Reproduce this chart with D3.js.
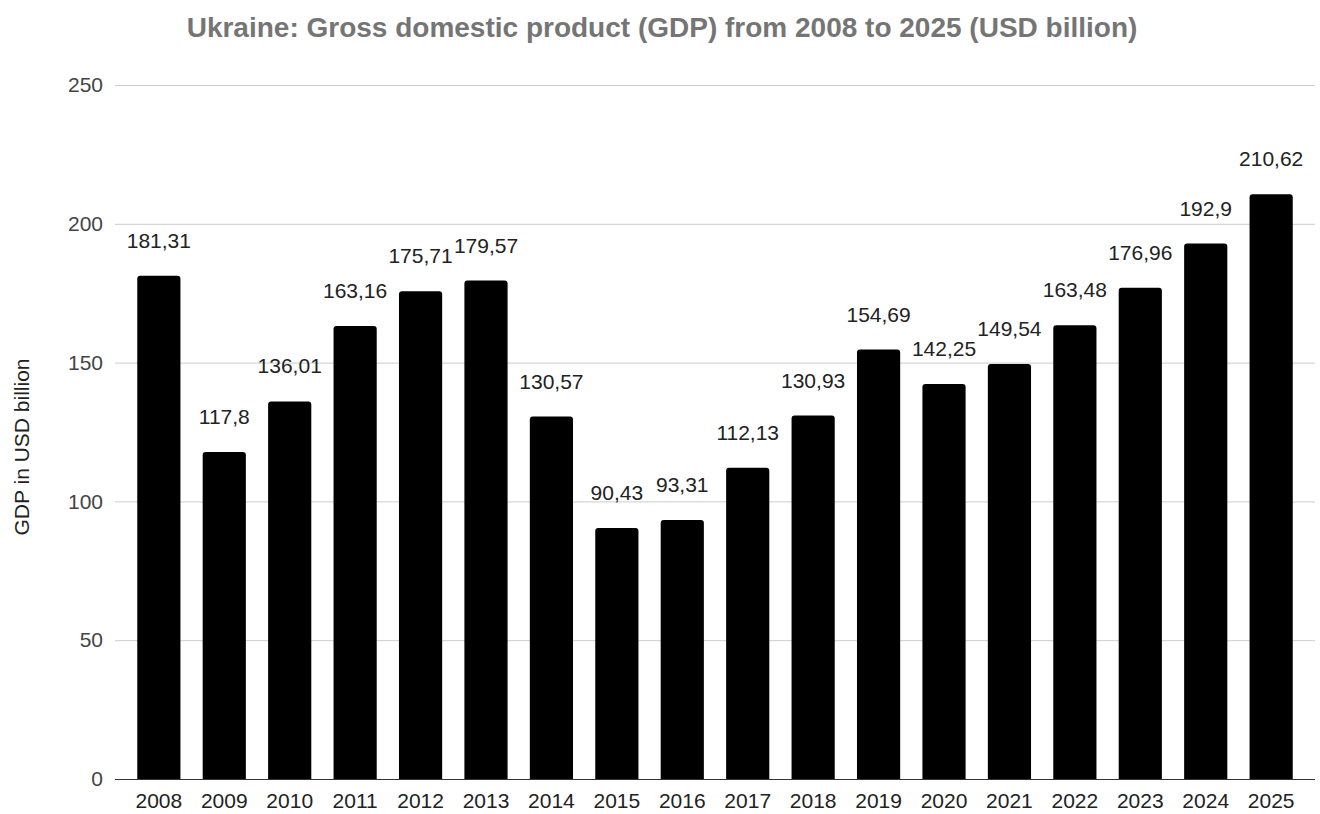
<!DOCTYPE html>
<html>
<head>
<meta charset="utf-8">
<script src="https://cdn.jsdelivr.net/npm/d3@7"></script>
<style>
  html, body { margin: 0; padding: 0; background: #fff; }
  svg { display: block; font-family: "Liberation Sans", Arial, sans-serif; }
</style>
</head>
<body>
<svg id="chart" width="1320" height="814"></svg>
<script>
// Ukraine GDP, USD billion
const years = ["2008","2009","2010","2011","2012","2013","2014","2015","2016","2017",
               "2018","2019","2020","2021","2022","2023","2024","2025"];
const gdp = [181.31,117.8,136.01,163.16,175.71,179.57,130.57,90.43,93.31,112.13,
             130.93,154.69,142.25,149.54,163.48,176.96,192.9,210.62];
const yTicks = [0,50,100,150,200,250];

const svg = d3.select("#chart");
const margin = { left: 115, right: 5, top: 85, bottom: 35 };
const W = 1320, H = 814;
const FONT = "Liberation Sans, Arial, sans-serif";

const x = d3.scaleBand()
  .domain(years)
  .range([margin.left, W - margin.right])
  .paddingInner(0.34)
  .paddingOuter(0.34);

const y = d3.scaleLinear()
  .domain([0, 250])
  .range([H - margin.bottom, margin.top]);

const fmt = v => String(v).replace(".", ",");

// title
svg.append("text")
  .attr("x", 662).attr("y", 37)
  .attr("text-anchor", "middle")
  .attr("font-size", 28).attr("font-weight", "bold")
  .attr("fill", "#757575")
  .text("Ukraine: Gross domestic product (GDP) from 2008 to 2025 (USD billion)");

// gridlines + y tick labels
const yAxis = d3.axisLeft(y).tickValues(yTicks).tickSize(-(W - margin.left - margin.right)).tickPadding(12);
const gy = svg.append("g").attr("transform", `translate(${margin.left},0)`).call(yAxis);
gy.select(".domain").remove();
gy.selectAll(".tick line").attr("stroke", "#cccccc").attr("stroke-width", 1);
gy.selectAll(".tick text").attr("font-size", 21).attr("fill", "#444").attr("font-family", FONT);

// axis title
svg.append("text")
  .attr("transform", `translate(29,447) rotate(-90)`)
  .attr("text-anchor", "middle")
  .attr("font-size", 21).attr("fill", "#222")
  .text("GDP in USD billion");

// bars with slightly rounded tops
const r = 3;
svg.append("g").selectAll("path")
  .data(years.map((yr, i) => ({ yr, v: gdp[i] })))
  .join("path")
  .attr("fill", "#000")
  .attr("d", d => {
    const x0 = x(d.yr), w = x.bandwidth(), y0 = y(d.v), yb = y(0);
    return `M${x0},${yb}V${y0 + r}Q${x0},${y0} ${x0 + r},${y0}H${x0 + w - r}Q${x0 + w},${y0} ${x0 + w},${y0 + r}V${yb}Z`;
  });

// value labels
svg.append("g").selectAll("text")
  .data(years.map((yr, i) => ({ yr, v: gdp[i] })))
  .join("text")
  .attr("x", d => x(d.yr) + x.bandwidth() / 2)
  .attr("y", d => y(d.v) - 28)
  .attr("text-anchor", "middle")
  .attr("font-size", 21).attr("fill", "#222")
  .text(d => fmt(d.v));

// x axis baseline + labels
const xAxis = d3.axisBottom(x).tickSize(0).tickPadding(14);
const gx = svg.append("g").attr("transform", `translate(0,${y(0)})`).call(xAxis);
gx.select(".domain").attr("stroke", "#333").attr("stroke-width", 1).attr("d", `M${margin.left},0.5H${W - margin.right}`);
gx.selectAll(".tick text").attr("font-size", 21).attr("fill", "#222").attr("font-family", FONT);
</script>
</body>
</html>
